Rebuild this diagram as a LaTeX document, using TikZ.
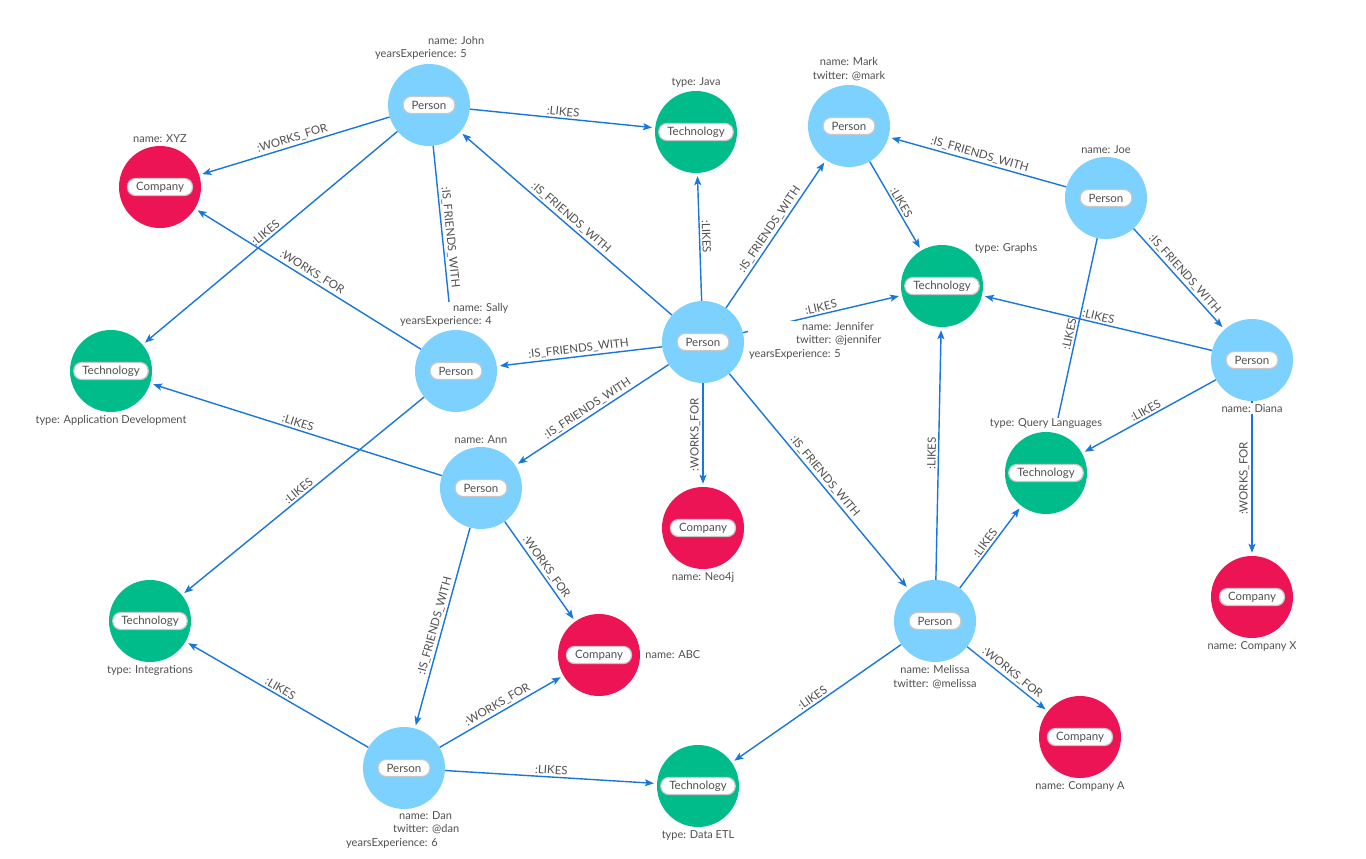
\documentclass[tikz,border=0pt]{standalone}
\usepackage{fontspec}
\setmainfont{Lato}
\usetikzlibrary{arrows.meta,positioning}
\definecolor{personblue}{RGB}{125,209,255}
\definecolor{techgreen}{RGB}{0,188,138}
\definecolor{companyred}{RGB}{237,20,85}
\definecolor{relblue}{RGB}{24,118,220}
\definecolor{textgrey}{RGB}{80,80,80}
\definecolor{pillgrey}{RGB}{200,200,200}

\begin{document}
\begin{tikzpicture}[x=1pt,y=-1pt]
    \tikzstyle{pill}=[draw=pillgrey, fill=white, line width=1.2pt, rounded corners=8pt, minimum height=17pt, inner xsep=8.5pt, inner ysep=0pt, text=textgrey, font=\fontsize{11.5}{12}\selectfont]
    \tikzstyle{entity}=[circle, minimum size=82pt, inner sep=0pt]
    \tikzstyle{person}=[entity, fill=personblue, label={[pill]center:Person}]
    \tikzstyle{tech}=[entity, fill=techgreen, label={[pill]center:Technology}]
    \tikzstyle{company}=[entity, fill=companyred, label={[pill]center:Company}]
    \tikzstyle{prop}=[fill=white, inner sep=1pt, text=textgrey, font=\fontsize{11}{13.5}\selectfont]
    \tikzstyle{rel}=[draw=relblue, line width=1.4pt, -{Stealth[length=9pt,width=7pt,inset=2pt]}, shorten >=3pt]
    \tikzstyle{elabel}=[sloped, above, inner sep=2pt, text=textgrey, font=\fontsize{11.5}{12}\selectfont]
    \useasboundingbox (0,0) rectangle (1366,859);

    % people
    \node[person] (john) at (429,105) {};
    \node[person] (mark) at (849,126) {};
    \node[person] (joe) at (1106,198) {};
    \node[person] (diana) at (1252,360) {};
    \node[person] (sally) at (456,371) {};
    \node[person] (jennifer) at (703,342) {};
    \node[person] (ann) at (481,488) {};
    \node[person] (melissa) at (935,621) {};
    \node[person] (dan) at (404,768) {};

    % technologies
    \node[tech] (java) at (696,132) {};
    \node[tech] (graphs) at (942,286) {};
    \node[tech] (appdev) at (111,371) {};
    \node[tech] (querylang) at (1046,473) {};
    \node[tech] (integrations) at (150,621) {};
    \node[tech] (dataetl) at (698,786) {};

    % companies
    \node[company] (xyz) at (160,187) {};
    \node[company] (neo4j) at (703,528) {};
    \node[company] (abc) at (599,655) {};
    \node[company] (companya) at (1080,737) {};
    \node[company] (companyx) at (1252,597) {};

    % relationships
    \draw[rel] (john) -- node[elabel] {:WORKS\_FOR} (xyz);
    \draw[rel] (john) -- node[elabel] {:LIKES} (java);
    \draw[rel] (john) -- node[elabel] {:LIKES} (appdev);
    \draw[rel, -, shorten >=8pt] (john) -- node[elabel] {:IS\_FRIENDS\_WITH} (sally);
    \draw[rel] (jennifer) -- node[elabel] {:IS\_FRIENDS\_WITH} (john);
    \draw[rel] (jennifer) -- node[elabel] {:LIKES} (java);
    \draw[rel] (jennifer) -- node[elabel] {:IS\_FRIENDS\_WITH} (mark);
    \draw[rel] (jennifer) -- node[elabel] {:LIKES} (graphs);
    \draw[rel] (jennifer) -- node[elabel] {:IS\_FRIENDS\_WITH} (sally);
    \draw[rel] (jennifer) -- node[elabel] {:IS\_FRIENDS\_WITH} (ann);
    \draw[rel] (jennifer) -- node[elabel, rotate=180] {:WORKS\_FOR} (neo4j);
    \draw[rel] (jennifer) -- node[elabel] {:IS\_FRIENDS\_WITH} (melissa);
    \draw[rel] (mark) -- node[elabel] {:LIKES} (graphs);
    \draw[rel] (joe) -- node[elabel] {:IS\_FRIENDS\_WITH} (mark);
    \draw[rel] (joe) -- node[elabel] {:IS\_FRIENDS\_WITH} (diana);
    \draw[rel, -, shorten >=8pt] (joe) -- node[elabel] {:LIKES} (querylang);
    \draw[rel] (diana) -- node[elabel] {:LIKES} (graphs);
    \draw[rel] (diana) -- node[elabel] {:LIKES} (querylang);
    \draw[rel] (diana) -- node[elabel, rotate=180] {:WORKS\_FOR} (companyx);
    \draw[rel] (sally) -- node[elabel] {:WORKS\_FOR} (xyz);
    \draw[rel] (sally) -- node[elabel] {:LIKES} (integrations);
    \draw[rel] (ann) -- node[elabel] {:LIKES} (appdev);
    \draw[rel] (ann) -- node[elabel] {:IS\_FRIENDS\_WITH} (dan);
    \draw[rel] (ann) -- node[elabel] {:WORKS\_FOR} (abc);
    \draw[rel] (dan) -- node[elabel] {:LIKES} (integrations);
    \draw[rel] (dan) -- node[elabel] {:WORKS\_FOR} (abc);
    \draw[rel] (dan) -- node[elabel] {:LIKES} (dataetl);
    \draw[rel] (melissa) -- node[elabel] {:LIKES} (graphs);
    \draw[rel] (melissa) -- node[elabel] {:LIKES} (querylang);
    \draw[rel] (melissa) -- node[elabel] {:LIKES} (dataetl);
    \draw[rel] (melissa) -- node[elabel] {:WORKS\_FOR} (companya);

    % properties
    \node[prop, align=left, anchor=north west] (johnprops) at (374,35) {\hspace*{53pt}name: John\\yearsExperience: 5};
    \node[prop, align=center, above=3pt of mark] (markprops) {name: Mark\\twitter: @mark};
    \node[prop, above=2pt of joe] (joeprops) {name: Joe};
    \node[prop, below=2pt of diana] (dianaprops) {name: Diana};
    \node[prop, align=left, anchor=north west] (sallyprops) at (399,302) {\hspace*{53pt}name: Sally\\yearsExperience: 4};
    \node[prop, align=left, anchor=north west] (jenniferprops) at (748,321) {\hspace*{53pt}name: Jennifer\\\hspace*{47pt}twitter: @jennifer\\yearsExperience: 5};
    \node[prop, above=2pt of ann] (annprops) {name: Ann};
    \node[prop, align=center, below=2pt of melissa] (melissaprops) {name: Melissa\\twitter: @melissa};
    \node[prop, align=left, anchor=north west] (danprops) at (345,810) {\hspace*{53pt}name: Dan\\\hspace*{47pt}twitter: @dan\\yearsExperience: 6};
    \node[prop, above=2pt of java] (javaprops) {type: Java};
    \node[prop] (graphsprops) at (1006,248) {type: Graphs};
    \node[prop, below=2pt of appdev] (appdevprops) {type: Application Development};
    \node[prop, above=2pt of querylang] (querylangprops) {type: Query Languages};
    \node[prop, below=2pt of integrations] (integrationsprops) {type: Integrations};
    \node[prop, below=2pt of dataetl] (dataetlprops) {type: Data ETL};
    \node[prop, above=2pt of xyz] (xyzprops) {name: XYZ};
    \node[prop, below=2pt of neo4j] (neo4jprops) {name: Neo4j};
    \node[prop, right=4pt of abc] (abcprops) {name: ABC};
    \node[prop, below=2pt of companya] (companyaprops) {name: Company A};
    \node[prop, below=2pt of companyx] (companyxprops) {name: Company X};
\end{tikzpicture}
\end{document}
